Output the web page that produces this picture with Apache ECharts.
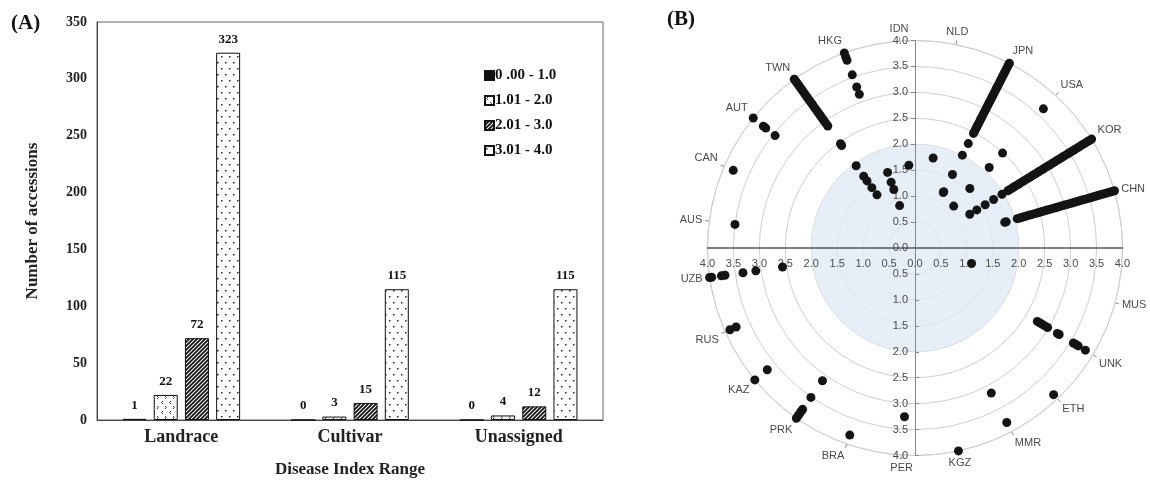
<!DOCTYPE html>
<html>
<head>
<meta charset="utf-8">
<script src="https://cdn.jsdelivr.net/npm/echarts@6/dist/echarts.min.js"></script>
<style>
  html, body { margin: 0; padding: 0; background: #fff; }
  #chart { width: 1150px; height: 484px; }
</style>
</head>
<body>
<div id="chart"></div>
<script>
// ---------- Panel A data ----------
const groupTypes = ['Landrace', 'Cultivar', 'Unassigned'];
const rangeNames = ['0 .00 - 1.0', '1.01 - 2.0', '2.01 - 3.0', '3.01 - 4.0'];
const range0to1 = [1, 0, 0];
const range1to2 = [22, 3, 4];
const range2to3 = [72, 15, 12];
const range3to4 = [323, 115, 115];
const countTicks = [0, 50, 100, 150, 200, 250, 300, 350];

// ---------- Panel B data ----------
const countries = ['', 'CHN', 'KOR', 'USA', 'JPN', 'NLD', 'IDN', 'HKG', 'TWN', 'AUT', 'CAN', 'AUS',
  'UZB', 'RUS', 'KAZ', 'PRK', 'BRA', 'PER', 'KGZ', 'MMR', 'ETH', 'UNK', 'MUS'];
const indexTicks = [0.0, 0.5, 1.0, 1.5, 2.0, 2.5, 3.0, 3.5, 4.0];
const CHN = [1.80, 1.83, 2.05, 2.10, 2.15, 2.20, 2.25, 2.30, 2.35, 2.40, 2.45, 2.50, 2.55, 2.60, 2.65, 2.70,
  2.75, 2.80, 2.85, 2.90, 2.95, 3.00, 3.05, 3.10, 3.15, 3.20, 3.25, 3.30, 3.35, 3.40, 3.45, 3.50, 3.55,
  3.60, 3.65, 3.70, 3.75, 3.80, 3.85, 3.90, 3.95, 4.00];
const KOR = [1.24, 1.40, 1.59, 1.78, 1.97, 2.10, 2.15, 2.20, 2.25, 2.30, 2.35, 2.40, 2.45, 2.50, 2.55, 2.60,
  2.65, 2.70, 2.75, 2.80, 2.85, 2.90, 2.95, 3.00, 3.05, 3.10, 3.15, 3.20, 3.25, 3.30, 3.35, 3.40, 3.45,
  3.50, 3.55, 3.60, 3.65, 3.70, 3.75, 3.80, 3.85, 3.90, 3.95, 4.00];
const USA = [1.10, 1.56, 2.11, 2.49, 3.65];
const JPN = [1.20, 1.22, 1.59, 2.01, 2.26, 2.48, 2.53, 2.58, 2.63, 2.68, 2.73, 2.78, 2.83, 2.88, 2.93, 2.98,
  3.03, 3.08, 3.13, 3.18, 3.23, 3.28, 3.33, 3.38, 3.43, 3.48, 3.53, 3.58, 3.63, 3.68, 3.73, 3.78, 3.83,
  3.88, 3.93, 3.98, 4.00];
const NLD = [1.77];
const IDN = [1.60];
const HKG = [0.87, 1.20, 1.35, 1.55, 3.15, 3.30, 3.55, 3.85, 3.92, 4.00];
const TWN = [1.26, 1.43, 1.59, 1.70, 1.95, 2.43, 2.47, 2.89, 2.94, 2.99, 3.04, 3.09, 3.14, 3.19, 3.24,
  3.29, 3.34, 3.40, 3.45, 3.50, 3.55, 3.60, 3.65, 3.70, 3.75, 3.80, 3.85, 3.90, 3.95, 4.00];
const AUT = [3.46, 3.69, 3.75, 4.00];
const CAN = [3.81];
const AUS = [3.50];
const UZB = [2.58, 3.10, 3.35, 3.70, 3.77, 3.96, 4.00];
const RUS = [3.77, 3.90];
const KAZ = [3.69, 4.00];
const PRK = [3.12, 3.51, 3.79, 3.84, 3.89, 3.94, 4.00];
const BRA = [3.82];
const PER = [3.26];
const KGZ = [4.00];
const MMR = [3.16, 3.80];
const ETH = [3.89];
const UNK = [2.75, 2.80, 2.86, 2.92, 2.98, 3.20, 3.24, 3.56, 3.62, 3.67, 3.83];
const MUS = [1.13];

const countryValues = [[], CHN, KOR, USA, JPN, NLD, IDN, HKG, TWN, AUT, CAN, AUS,
  UZB, RUS, KAZ, PRK, BRA, PER, KGZ, MMR, ETH, UNK, MUS];

// ---------- build ----------
const polarPoints = [];
countryValues.forEach((vals, ci) => vals.forEach(v => polarPoints.push([v, ci])));

function makePattern(w, h, draw) {
  const c = document.createElement('canvas');
  c.width = w; c.height = h;
  const ctx = c.getContext('2d');
  ctx.fillStyle = '#ffffff';
  ctx.fillRect(0, 0, w, h);
  draw(ctx);
  return { image: c, repeat: 'repeat' };
}
const chevronPattern = makePattern(8, 10, ctx => {
  ctx.strokeStyle = '#222'; ctx.lineWidth = 0.9;
  ctx.beginPath();
  ctx.moveTo(3, 1); ctx.lineTo(1.5, 2.5); ctx.lineTo(3, 4);
  ctx.moveTo(5, 6); ctx.lineTo(6.5, 7.5); ctx.lineTo(5, 9);
  ctx.stroke();
});
const hatchPattern = makePattern(4, 4, ctx => {
  ctx.strokeStyle = '#111'; ctx.lineWidth = 1.8;
  ctx.beginPath();
  ctx.moveTo(0, 4); ctx.lineTo(4, 0);
  ctx.moveTo(-1, 1); ctx.lineTo(1, -1);
  ctx.moveTo(3, 5); ctx.lineTo(5, 3);
  ctx.stroke();
});
const dotPattern = makePattern(8, 12, ctx => {
  ctx.fillStyle = '#222';
  ctx.fillRect(1, 2, 1.5, 1.5);
  ctx.fillRect(5, 8, 1.5, 1.5);
});

const serif = '"Liberation Serif", "Times New Roman", serif';
const sans = '"Liberation Sans", Arial, sans-serif';
const fills = ['#111111', chevronPattern, hatchPattern, dotPattern];
const barData = [range0to1, range1to2, range2to3, range3to4];

const barSeries = barData.map((vals, i) => ({
  name: rangeNames[i],
  type: 'bar',
  xAxisIndex: 0, yAxisIndex: 0,
  data: vals,
  barWidth: 24,
  barGap: '30%',
  itemStyle: { color: fills[i], borderColor: '#111', borderWidth: 1 },
  label: {
    show: true, position: 'top', distance: 7,
    fontFamily: serif, fontWeight: 'bold', fontSize: 13, color: '#111'
  }
}));

const C = [915, 248];
const R = 207.5;
const shade = 'rgba(226,235,247,0.85)';
const none = 'rgba(0,0,0,0)';
const tickFmt = v => Number(v).toFixed(1);
const lblStyle = { fontFamily: sans, fontSize: 11, color: '#4a4a4a', formatter: tickFmt };

function radAxis(idx, extra) {
  return Object.assign({
    polarIndex: idx, type: 'value', min: indexTicks[0], max: indexTicks[indexTicks.length - 1], interval: 0.5,
    splitLine: { show: false }, splitArea: { show: false },
    axisLine: { show: true, lineStyle: { color: '#888', width: 1 } },
    axisTick: { show: false },
    z: 5
  }, extra);
}

const option = {
  animation: false,
  backgroundColor: '#ffffff',
  title: [
    { text: '(A)', left: 6, top: 8, textStyle: { fontFamily: serif, fontWeight: 'bold', fontSize: 21, color: '#111' } },
    { text: '(B)', left: 662, top: 4, textStyle: { fontFamily: serif, fontWeight: 'bold', fontSize: 21, color: '#111' } }
  ],
  legend: {
    orient: 'vertical', left: 479, top: 63,
    icon: 'rect',
    itemWidth: 9, itemHeight: 9, itemGap: 10,
    data: rangeNames,
    textStyle: { fontFamily: serif, fontWeight: 'bold', fontSize: 15, color: '#111', padding: [0, 0, 0, -4] }
  },
  grid: {
    left: 97, top: 22, width: 506, height: 398,
    show: true, borderColor: '#666', borderWidth: 1, backgroundColor: 'transparent'
  },
  xAxis: {
    type: 'category', data: groupTypes,
    axisLine: { lineStyle: { color: '#444', width: 1 } },
    axisTick: { show: false },
    axisLabel: { fontFamily: serif, fontWeight: 'bold', fontSize: 18, color: '#222', margin: 8 },
    name: 'Disease Index Range', nameLocation: 'middle', nameGap: 41,
    nameTextStyle: { fontFamily: serif, fontWeight: 'bold', fontSize: 17, color: '#222' }
  },
  yAxis: {
    type: 'value', min: countTicks[0], max: countTicks[countTicks.length - 1], interval: 50,
    axisLine: { show: true, lineStyle: { color: '#444', width: 1 } },
    axisTick: { show: false },
    splitLine: { show: false },
    axisLabel: { fontFamily: serif, fontWeight: 'bold', fontSize: 14, color: '#222', margin: 10 },
    name: 'Number of accessions', nameLocation: 'middle', nameGap: 56,
    nameTextStyle: { fontFamily: serif, fontWeight: 'bold', fontSize: 17, color: '#222' }
  },
  polar: [0, 1, 2, 3, 4].map(() => ({ center: C, radius: R })),
  angleAxis: [
    {
      polarIndex: 0, type: 'category', data: countries,
      startAngle: 0.35 - 180 / countries.length, clockwise: false,
      axisLine: { show: true, lineStyle: { color: '#cfcfcf', width: 1 } },
      axisTick: { show: true, alignWithLabel: true, length: 4, lineStyle: { color: '#888' },
        interval: (i, v) => v !== '' },
      axisLabel: { show: true, margin: 7, fontFamily: sans, fontSize: 11, color: '#4a4a4a' },
      splitLine: { show: false }
    },
    { polarIndex: 1, type: 'value', min: 0, max: 360, startAngle: 90, show: false },
    { polarIndex: 2, type: 'value', min: 0, max: 360, startAngle: 270, show: false },
    { polarIndex: 3, type: 'value', min: 0, max: 360, startAngle: 180, show: false },
    { polarIndex: 4, type: 'value', min: 0, max: 360, startAngle: 0, show: false }
  ],
  radiusAxis: [
    {
      polarIndex: 0, type: 'value', min: 0, max: 4, interval: 0.5,
      axisLine: { show: false }, axisTick: { show: false }, axisLabel: { show: false },
      splitLine: { show: true, lineStyle: { color: '#cfcfcf', width: 1 } },
      splitArea: { show: true, areaStyle: { color: [shade, shade, shade, shade, none, none, none, none] } }
    },
    radAxis(1, {
      axisTick: { show: true, length: 4, lineStyle: { color: '#888' } },
      axisLabel: Object.assign({ margin: 7 }, lblStyle)
    }),
    radAxis(2, {
      axisTick: { show: true, inside: true, length: 4, lineStyle: { color: '#888' } },
      axisLabel: Object.assign({ margin: -7, align: 'right', verticalAlign: 'middle', showMinLabel: false }, lblStyle)
    }),
    radAxis(3, {
      axisLine: { show: true, lineStyle: { color: '#555', width: 1.5 } },
      axisLabel: Object.assign({ margin: 16, verticalAlign: 'middle', align: 'center' }, lblStyle)
    }),
    radAxis(4, {
      axisLine: { show: true, lineStyle: { color: '#555', width: 1.5 } },
      axisLabel: Object.assign({ margin: -16, verticalAlign: 'middle', align: 'center', showMinLabel: false }, lblStyle)
    })
  ],
  series: barSeries.concat([
    {
      type: 'scatter', coordinateSystem: 'polar', polarIndex: 0,
      data: polarPoints, symbolSize: 9,
      itemStyle: { color: '#141414', opacity: 1 }, z: 10
    }
  ])
};

const chart = echarts.init(document.getElementById('chart'), null, { renderer: 'canvas' });
chart.setOption(option);
</script>
</body>
</html>
